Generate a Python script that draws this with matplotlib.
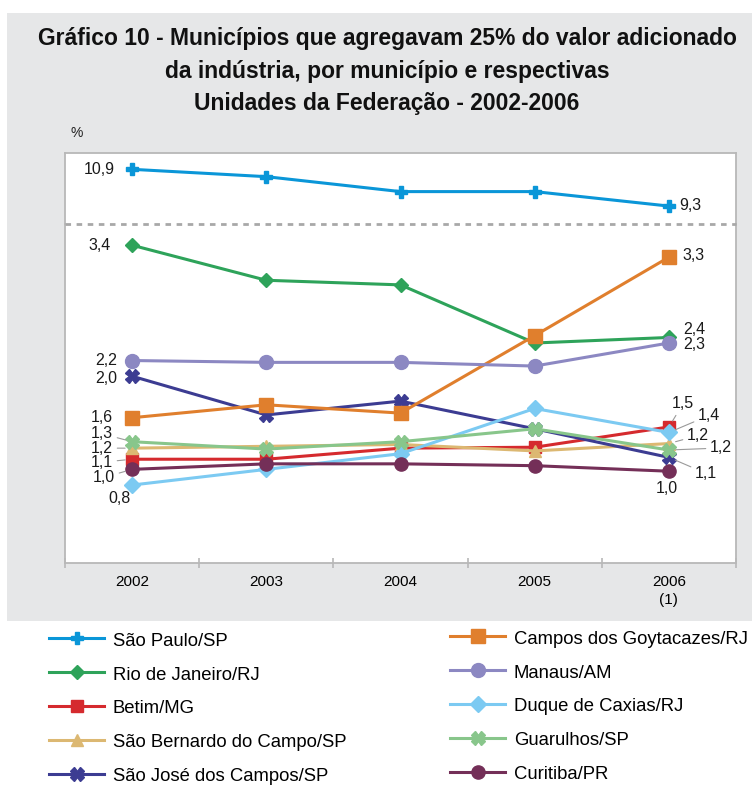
import matplotlib
matplotlib.use('Agg')
import matplotlib.pyplot as plt
import numpy as np
from matplotlib.patches import Rectangle

plt.rcParams['font.family'] = ['Liberation Sans', 'DejaVu Sans']

# ---------------- data ----------------
years = ['2002', '2003', '2004', '2005', '2006\n(1)']

sao_paulo = [10.9, 10.58, 9.93, 9.93, 9.3]
rio_de_janeiro = [3.4, 3.02, 2.97, 2.34, 2.40]
betim = [1.08, 1.08, 1.20, 1.21, 1.43]
sao_bernardo = [1.20, 1.22, 1.24, 1.17, 1.25]
sao_jose = [1.98, 1.56, 1.71, 1.41, 1.10]
campos = [1.53, 1.67, 1.58, 2.42, 3.27]
manaus = [2.15, 2.13, 2.13, 2.09, 2.34]
duque_caxias = [0.80, 0.97, 1.14, 1.63, 1.37]
guarulhos = [1.27, 1.19, 1.27, 1.41, 1.18]
curitiba = [0.97, 1.03, 1.03, 1.01, 0.95]

names = ['São Paulo/SP', 'Rio de Janeiro/RJ', 'Betim/MG', 'São Bernardo do Campo/SP',
         'São José dos Campos/SP', 'Campos dos Goytacazes/RJ', 'Manaus/AM',
         'Duque de Caxias/RJ', 'Guarulhos/SP', 'Curitiba/PR']

# ---------------- figure ----------------
W, H = 752, 787
fig = plt.figure(figsize=(W / 100, H / 100), dpi=100)
PX = 100 / 72.0


def fx(px):
    return px / W


def fy(py):
    return 1 - py / H


fig.patches.append(Rectangle((fx(7), fy(621)), 1 - fx(7), fy(13) - fy(621),
                             transform=fig.transFigure, facecolor='#e6e7e8',
                             edgecolor='none', zorder=-10))

ax_top = fig.add_axes([fx(65), fy(224), fx(736) - fx(65), (224 - 153) / H])
ax_bot = fig.add_axes([fx(65), fy(563), fx(736) - fx(65), (563 - 224) / H])

border = '#b8b8b8'
for ax in (ax_top, ax_bot):
    ax.set_facecolor('white')
    ax.set_xlim(-0.5, 4.5)
    ax.set_yticks([])
    for s in ax.spines.values():
        s.set_color(border)
        s.set_linewidth(1.3)

ax_top.set_ylim(8.52, 11.61)
ax_bot.set_ylim(-0.045, 3.63)
ax_top.spines['bottom'].set_visible(False)
ax_top.set_xticks([])

ax_bot.spines['top'].set_linestyle((0, (2, 2)))
ax_bot.spines['top'].set_linewidth(2.0)
ax_bot.spines['top'].set_color('#a8a8a8')
ax_bot.spines['top'].set_capstyle('butt')

x = np.arange(len(years))
ax_bot.set_xticks(x)
ax_bot.set_xticklabels(years, fontsize=11, linespacing=1.35)
ax_bot.tick_params(axis='x', which='major', length=0, pad=9)
ax_bot.set_xticks(np.arange(-0.5, len(years), 1.0), minor=True)
ax_bot.tick_params(axis='x', which='minor', length=7, direction='inout',
                   color=border, width=1.2)

series = [
    (ax_top, sao_paulo, '#0a96d8', 'P', 8.5),
    (ax_bot, rio_de_janeiro, '#2ea35a', 'D', 7.5),
    (ax_bot, betim, '#d52a2e', 's', 8),
    (ax_bot, sao_bernardo, '#dcb872', '^', 9),
    (ax_bot, sao_jose, '#3c3c92', 'X', 10),
    (ax_bot, campos, '#e07f2d', 's', 10),
    (ax_bot, manaus, '#8c88c2', 'o', 10),
    (ax_bot, duque_caxias, '#7ccaf2', 'D', 8.5),
    (ax_bot, guarulhos, '#88c68b', 'X', 10),
    (ax_bot, curitiba, '#742f58', 'o', 9.5),
]

handles = []
for (ax, vals, col, mk, ms), nm in zip(series, names):
    ln, = ax.plot(x, vals, color=col, lw=2.2, marker=mk, markersize=ms,
                  markerfacecolor=col, markeredgecolor=col, label=nm, zorder=3)
    handles.append(ln)

LBL = 11.5
lead = dict(arrowstyle='-', color='#9a9a9a', lw=0.8, shrinkA=1, shrinkB=5)


def lab(ax, i, v, txt, dx, dy, ha='left', leader=False):
    kw = dict(xy=(i, v), xytext=(dx / PX, dy / PX), textcoords='offset points',
              ha=ha, va='center', fontsize=LBL, color='#1a1a1a', zorder=5)
    if leader:
        kw['arrowprops'] = lead
    ax.annotate(txt, **kw)


# left-side labels (2002)
lab(ax_top, 0, sao_paulo[0], '10,9', -17, 0, 'right')
lab(ax_bot, 0, rio_de_janeiro[0], '3,4', -21, 0, 'right')
lab(ax_bot, 0, manaus[0], '2,2', -15, 0, 'right')
lab(ax_bot, 0, sao_jose[0], '2,0', -15, -2, 'right')
lab(ax_bot, 0, campos[0], '1,6', -19, 0, 'right')
lab(ax_bot, 0, guarulhos[0], '1,3', -19, 8, 'right', True)
lab(ax_bot, 0, sao_bernardo[0], '1,2', -19, 0, 'right', True)
lab(ax_bot, 0, betim[0], '1,1', -19, -3, 'right', True)
lab(ax_bot, 0, curitiba[0], '1,0', -17, -8, 'right', True)
lab(ax_bot, 0, duque_caxias[0], '0,8', -13, -13, 'center')

# right-side labels (2006)
lab(ax_top, 4, sao_paulo[4], '9,3', 10, 1)
lab(ax_bot, 4, campos[4], '3,3', 14, 2)
lab(ax_bot, 4, rio_de_janeiro[4], '2,4', 14, 8)
lab(ax_bot, 4, manaus[4], '2,3', 14, -2)
lab(ax_bot, 4, betim[4], '1,5', 14, 23, 'center', True)
lab(ax_bot, 4, duque_caxias[4], '1,4', 29, 17, 'left', True)
lab(ax_bot, 4, sao_bernardo[4], '1,2', 18, 8, 'left', True)
lab(ax_bot, 4, guarulhos[4], '1,2', 41, 2, 'left', True)
lab(ax_bot, 4, sao_jose[4], '1,1', 26, -16, 'left', True)
lab(ax_bot, 4, curitiba[4], '1,0', -2, -17, 'center')

# title and unit
title_lines = ['Gráfico 10 - Municípios que agregavam 25% do valor adicionado',
               'da indústria, por município e respectivas',
               'Unidades da Federação - 2002-2006']
for t, yb in zip(title_lines, (45, 78, 110)):
    fig.text(fx(387), fy(yb), t, ha='center', va='baseline', fontsize=16.5,
             fontweight='bold', color='#111111')
fig.text(fx(77), fy(133), '%', ha='center', va='center', fontsize=10, color='#222222')

# legends
common = dict(loc='upper left', frameon=False, fontsize=13.3, ncol=1,
              handlelength=3.0, handletextpad=0.45, labelspacing=0.83,
              borderpad=0, borderaxespad=0, handleheight=1.0)
fig.legend(handles[:5], names[:5], bbox_to_anchor=(fx(49), fy(631)), **common)
fig.legend(handles[5:], names[5:], bbox_to_anchor=(fx(450), fy(629)), **common)

fig.savefig('out.png', dpi=100)
